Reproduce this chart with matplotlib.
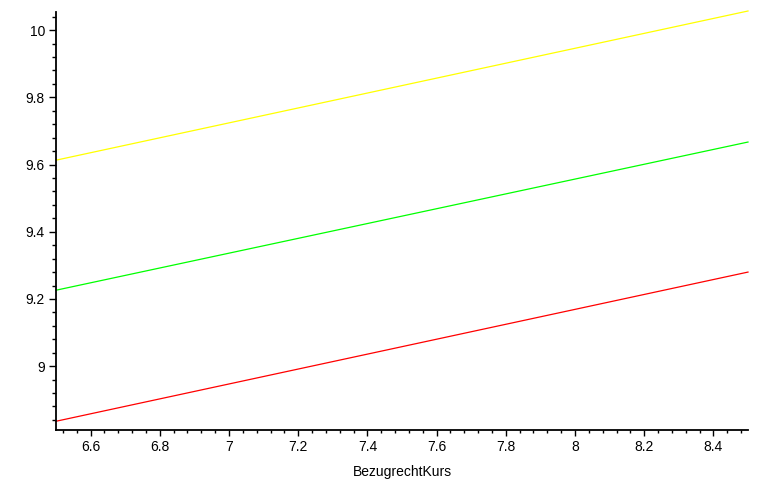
import matplotlib
matplotlib.use("Agg")
import matplotlib.pyplot as plt
from matplotlib.ticker import MultipleLocator, FuncFormatter

# Data
x_vals = [6.5, 8.5]
red_vals = [8.836, 9.280]
green_vals = [9.226, 9.667]
yellow_vals = [9.613, 10.057]

x_label = "BezugrechtKurs"

plt.rcParams['font.family'] = ['Liberation Sans', 'DejaVu Sans']

fig = plt.figure(figsize=(7.82, 4.82), dpi=100)
ax = fig.add_axes([56/782, (482-430)/482, (748-56)/782, (430-12)/482])

ax.plot(x_vals, yellow_vals, color='#ffff00', lw=0.9, clip_on=False)
ax.plot(x_vals, green_vals, color='#00ff00', lw=0.9, clip_on=False)
ax.plot(x_vals, red_vals, color='#ff0000', lw=0.9, clip_on=False)

ax.set_xlim(6.5, 8.5)
ax.set_ylim(8.81, 10.054)

for s in ['top', 'right']:
    ax.spines[s].set_visible(False)
for s in ['left', 'bottom']:
    ax.spines[s].set_linewidth(1.3)
    ax.spines[s].set_color('black')

ax.xaxis.set_major_locator(MultipleLocator(0.2))
ax.xaxis.set_minor_locator(MultipleLocator(0.04))
ax.yaxis.set_major_locator(MultipleLocator(0.2))
ax.yaxis.set_minor_locator(MultipleLocator(0.04))

def fmt(v, pos):
    s = f"{v:.1f}"
    if s.endswith(".0"):
        s = s[:-2]
    return s

ax.xaxis.set_major_formatter(FuncFormatter(fmt))
ax.yaxis.set_major_formatter(FuncFormatter(fmt))

ax.tick_params(axis='x', which='major', length=4, width=1, direction='out', labelsize=10, pad=3)
ax.tick_params(axis='x', which='minor', length=2, width=1, direction='out')
ax.tick_params(axis='y', which='major', length=5, width=1, direction='out', labelsize=10, pad=3)
ax.tick_params(axis='y', which='minor', length=3, width=1, direction='out')

fig.text(402/782, 1 - 472/482, x_label, fontsize=10, ha='center', va='center')

fig.savefig("out.png", dpi=100)
